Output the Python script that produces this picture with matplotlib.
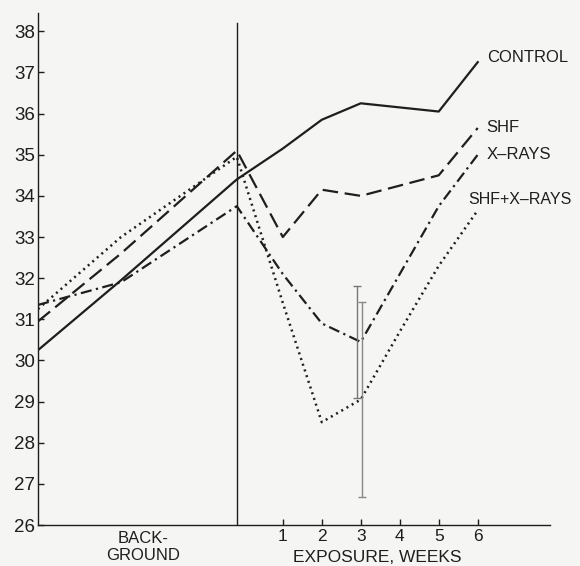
import numpy as np
import matplotlib.pyplot as plt

# x positions: two background readings plus the last one on the divider, then weeks 1-6
x_pos = [-5.28, -3.15, -0.18, 1, 2, 3, 4, 5, 6]
weeks = [1, 2, 3, 4, 5, 6]

control = [30.25, 31.95, 34.4, 35.15, 35.85, 36.25, 36.15, 36.05, 37.25]
shf = [30.95, 32.6, 35.1, 33.0, 34.15, 34.0, 34.25, 34.5, 35.65]
xrays = [31.35, 31.9, 33.75, 32.1, 30.9, 30.45, 32.1, 33.75, 35.0]
shf_xrays = [31.25, 33.0, 34.95, 31.4, 28.5, 29.05, 30.7, 32.3, 33.65]

# error bars at week 3
err_x = [2.9, 3.02]
err_y = [30.45, 29.05]
err_half = [1.37, 2.38]

ink = '#1e1e1e'
bg = '#f5f5f3'

plt.rcParams['font.family'] = ['Liberation Sans', 'DejaVu Sans']

fig = plt.figure(figsize=(5.8, 5.66), dpi=100, facecolor=bg)
ax = fig.add_axes([0.0655, 0.0724, 0.8825, 0.905])
ax.set_facecolor(bg)

ax.plot(x_pos, control, color=ink, lw=1.6, ls='-')
ax.plot(x_pos, shf, color=ink, lw=1.6, ls=(0, (7, 3)))
ax.plot(x_pos, xrays, color=ink, lw=1.6, ls=(0, (5, 2, 1, 2)))
ax.plot(x_pos, shf_xrays, color=ink, lw=1.8, ls=(0, (0.8, 1.6)))

ax.errorbar(err_x[0], err_y[0], yerr=err_half[0], fmt='none', ecolor='#777777',
            elinewidth=1.0, capsize=3, capthick=1.0, ls=':')
ax.errorbar(err_x[1], err_y[1], yerr=err_half[1], fmt='none', ecolor='#888888',
            elinewidth=1.0, capsize=3, capthick=1.0, ls=':')

ax.plot([-0.18, -0.18], [26, 38.2], color=ink, lw=1.0)

ax.set_xlim(-5.28, 7.85)
ax.set_ylim(26, 38.45)
ax.spines['top'].set_visible(False)
ax.spines['right'].set_visible(False)
for s in ['left', 'bottom']:
    ax.spines[s].set_color(ink)
    ax.spines[s].set_linewidth(1.0)

ax.set_yticks(range(26, 39))
ax.set_xticks(weeks)
ax.tick_params(direction='in', length=4, width=1.0, colors=ink, labelsize=13.5, pad=2)
ax.tick_params(axis='x', labelsize=12.5, pad=3)

ax.text(-2.59, 25.86, 'BACK-\nGROUND', ha='center', va='top', fontsize=12,
        color=ink, linespacing=1.15)
ax.text(3.41, 25.4, 'EXPOSURE, WEEKS', ha='center', va='top', fontsize=12.5, color=ink)

ax.text(6.23, 37.36, 'CONTROL', ha='left', va='center', fontsize=12, color=ink)
ax.text(6.23, 35.66, 'SHF', ha='left', va='center', fontsize=12, color=ink)
ax.text(6.23, 35.0, 'X\u2013RAYS', ha='left', va='center', fontsize=12, color=ink)
ax.text(5.75, 33.9, 'SHF+X\u2013RAYS', ha='left', va='center', fontsize=11.5, color=ink)

fig.savefig('out.png', dpi=100, facecolor=bg)
